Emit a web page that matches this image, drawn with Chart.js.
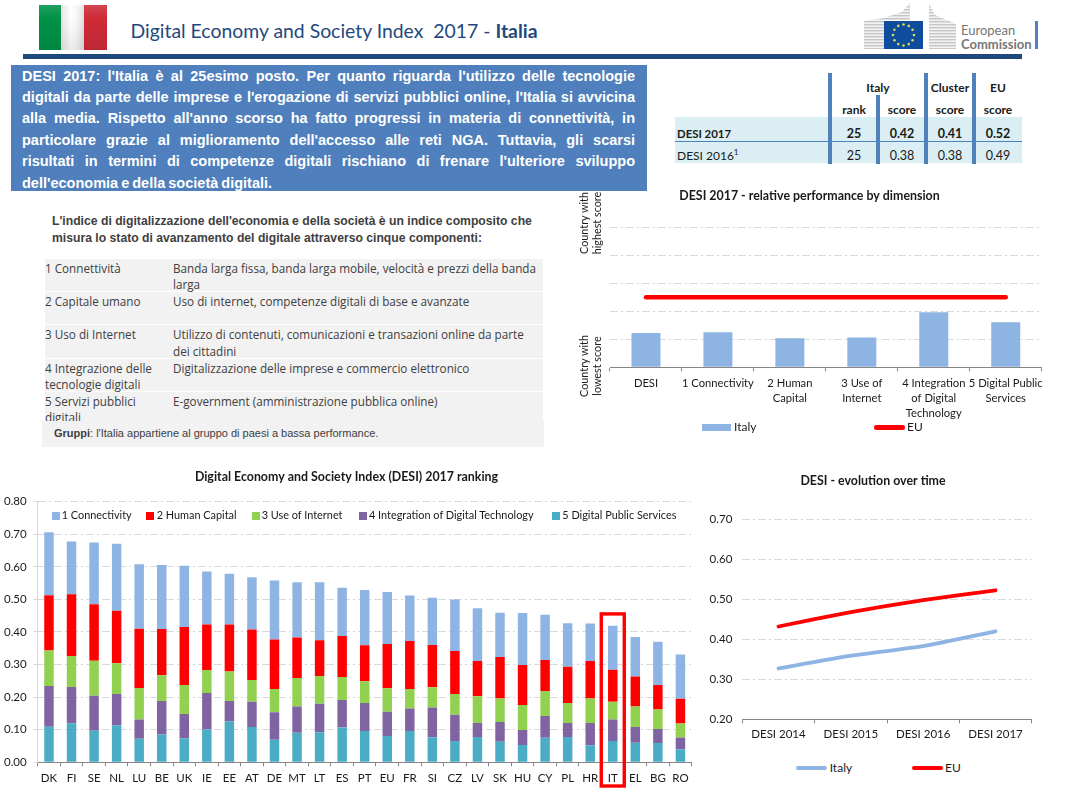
<!DOCTYPE html>
<html lang="it">
<head>
<meta charset="utf-8">
<title>DESI 2017 - Italia</title>
<script src="https://cdn.jsdelivr.net/npm/chart.js@4"></script>
<style>
  html, body { margin: 0; padding: 0; background: #fff; }
  #page { position: relative; width: 1069px; height: 805px; overflow: hidden; font-family: Lato, sans-serif; color: #1a1a1a; }
  #page > * { position: absolute; }
  canvas { display: block; }
  .t { white-space: nowrap; line-height: 1; transform: translateY(-50%); }
  .c { transform: translate(-50%, -50%); }
  .rot { white-space: nowrap; font-size: 10.8px; line-height: 13.3px; text-align: center; transform: translate(-50%, -50%) rotate(-90deg); }
  .cell { font: 11.7px/16.3px "Open Sans", sans-serif; color: #404040; white-space: nowrap; }
  .intro div { position: absolute; left: 11px; width: 613px; color: #fff; font: bold 14.5px/21px "Liberation Sans", sans-serif; word-spacing: -1px; white-space: nowrap; text-align: justify; text-align-last: justify; }
</style>
</head>
<body>
<div id="page"></div>
<script>
// ---------------- DATA ----------------
const countries = ['DK','FI','SE','NL','LU','BE','UK','IE','EE','AT','DE','MT','LT','ES','PT','EU','FR','SI','CZ','LV','SK','HU','CY','PL','HR','IT','EL','BG','RO'];
const connectivity = [.193,.162,.190,.206,.198,.197,.188,.163,.156,.160,.181,.170,.178,.148,.170,.160,.140,.145,.158,.162,.136,.159,.139,.134,.115,.135,.122,.133,.136];
const humanCapital = [.170,.190,.173,.161,.182,.142,.178,.140,.144,.155,.152,.124,.110,.126,.110,.136,.147,.130,.132,.108,.127,.123,.095,.111,.115,.098,.092,.075,.076];
const useOfInternet = [.109,.095,.108,.094,.097,.079,.089,.070,.091,.067,.071,.088,.085,.071,.067,.072,.060,.062,.064,.082,.072,.077,.077,.061,.075,.055,.063,.060,.043];
const integration = [.125,.111,.107,.096,.059,.103,.074,.112,.062,.078,.085,.080,.088,.084,.086,.074,.069,.091,.081,.043,.061,.046,.067,.043,.069,.066,.048,.043,.036];
const publicServices = [.109,.120,.097,.114,.072,.085,.074,.101,.126,.108,.069,.091,.092,.107,.096,.081,.096,.077,.065,.078,.063,.053,.075,.078,.052,.065,.060,.059,.040];

const dimensions = ['DESI','1 Connectivity',['2 Human','Capital'],['3 Use of','Internet'],['4 Integration','of Digital','Technology'],['5 Digital Public','Services']];
const italyDimension = [.245,.25,.207,.212,.393,.321];
const euDimension = [.5,.5,.5,.5,.5,.5];

const years = ['DESI 2014','DESI 2015','DESI 2016','DESI 2017'];
const italyYears = [.327,.359,.383,.42];
const euYears = [.432,.468,.498,.5225];

const introLines = [
  "DESI 2017: l'Italia è al 25esimo posto. Per quanto riguarda l'utilizzo delle tecnologie",
  "digitali da parte delle imprese e l'erogazione di servizi pubblici online, l'Italia si avvicina",
  "alla media. Rispetto all'anno scorso ha fatto progressi in materia di connettività, in",
  "particolare grazie al miglioramento dell'accesso alle reti NGA. Tuttavia, gli scarsi",
  "risultati in termini di competenze digitali rischiano di frenare l'ulteriore sviluppo",
  "dell'economia e della società digitali."
];
const components = [
  ['1 Connettività', 'Banda larga fissa, banda larga mobile, velocità e prezzi della banda<br>larga'],
  ['2 Capitale umano', 'Uso di internet, competenze digitali di base e avanzate'],
  ['3 Uso di Internet', 'Utilizzo di contenuti, comunicazioni e transazioni online da parte<br>dei cittadini'],
  ['4 Integrazione delle<br>tecnologie digitali', 'Digitalizzazione delle imprese e commercio elettronico'],
  ['5 Servizi pubblici<br>digitali', 'E-government (amministrazione pubblica online)']
];
const scoreRows = [
  ['DESI 2017', '25', '0.42', '0.41', '0.52'],
  ['DESI 2016<sup style="font-size:8px;line-height:0">1</sup>', '25', '0.38', '0.38', '0.49']
];

// ---------------- COLOURS ----------------
const BLUE = '#8eb4e3', RED = '#ff0000', GREEN = '#92d050', PURPLE = '#8064a2', TEAL = '#4bacc6';
const GRID = '#d9d9d9', AXIS = '#868686', NAVY = '#1f497d', BAR = '#4f81bd';
const DASH = [8, 3, 2, 3];
const page = document.getElementById('page');

function box(x, y, w, h, bg, cls) {
  const d = document.createElement('div');
  d.style.cssText = `left:${x}px;top:${y}px;width:${w}px;height:${h}px;background:${bg};`;
  if (cls) d.className = cls;
  page.appendChild(d);
  return d;
}

function text(html, x, y, css, cls) {
  const d = document.createElement('div');
  d.className = cls || 't';
  d.innerHTML = html;
  d.style.cssText = `left:${x}px;top:${y}px;` + (css || '');
  page.appendChild(d);
  return d;
}

function addCanvas(x, y, w, h) {
  const c = document.createElement('canvas');
  c.width = w; c.height = h;
  c.style.cssText = `left:${x}px;top:${y}px;width:${w}px;height:${h}px;`;
  page.appendChild(c);
  return c;
}

// ---------------- HEADER ----------------
box(39, 5, 68, 45, 'linear-gradient(180deg,rgba(255,255,255,.12) 0,rgba(0,0,0,0) 30%,rgba(0,0,0,.08) 100%),linear-gradient(90deg,#009246 0,#009246 33%,#e6e6e6 33%,#ffffff 47%,#f6f6f6 56%,#dedede 66%,#ce2b37 66%,#ce2b37 100%)');
text('Digital Economy and Society Index&nbsp; 2017 - <b>Italia</b>', 130.5, 31, `font-size:19.4px;color:${NAVY};`);
box(23, 54, 999, 5, NAVY);

// logo
const stars = [];
for (let i = 0; i < 12; i++) {
  const a = i * Math.PI / 6;
  stars.push(`<circle cx="${39.5 + 10.5 * Math.cos(a)}" cy="${32 + 10.5 * Math.sin(a)}" r="1.3" fill="#d3dc5a"/>`);
}
const logo = document.createElement('div');
logo.style.cssText = 'left:864px;top:3px;width:96px;height:47px;';
logo.innerHTML = `<svg width="96" height="47" xmlns="http://www.w3.org/2000/svg">
  <defs><pattern id="st" width="3" height="3" patternUnits="userSpaceOnUse"><rect width="3" height="3" fill="#f2f2f2"/><rect width="3" height="1.4" fill="#c6c6c6"/></pattern></defs>
  <polygon points="0,18 20,15 38,9 46,0 46,17 20,17 20,46 0,46" fill="url(#st)"/>
  <polygon points="65,0 71,12 92,21 92,46 65,46" fill="url(#st)"/>
  <rect x="20" y="18" width="39" height="28" fill="#0f4c9c"/>${stars.join('')}</svg>`;
page.appendChild(logo);
text('European', 961, 29.5, 'font-size:13px;color:#777;');
text('Commission', 961, 44, 'font-size:13px;color:#777;font-weight:bold;');
box(1035, 21, 3, 28, BAR);

// ---------------- INTRO BOX ----------------
const intro = box(11, 65, 636, 126, '#4f7fbc', 'intro');
introLines.forEach((line, i) => {
  const d = document.createElement('div');
  d.textContent = line;
  d.style.top = (0.5 + i * 21.4) + 'px';
  if (i === introLines.length - 1) d.style.textAlignLast = 'left';
  intro.appendChild(d);
});

// ---------------- SCORE TABLE ----------------
box(675, 117, 347, 46, '#daeef3');
box(675, 141, 347, 1, BAR);
[[828, 73], [876, 95], [924, 73], [972, 73]].forEach(p => box(p[0], p[1], 4, 164 - p[1], BAR));
const tableFont = 'font-size:12px;font-weight:bold;color:#1a1a1a;';
text('Italy', 878, 88, tableFont, 't c');
text('Cluster', 950, 88, tableFont, 't c');
text('EU', 998, 88, tableFont, 't c');
text('rank', 854, 110, tableFont, 't c');
text('score', 902, 110, tableFont, 't c');
text('score', 950, 110, tableFont, 't c');
text('score', 998, 110, tableFont, 't c');
const scoreX = [854, 902, 950, 998];
scoreRows.forEach((row, r) => {
  const rowY = r === 0 ? 134 : 156;
  const weight = r === 0 ? 'bold' : 'normal';
  text(row[0], 677, rowY, `font-size:${r === 0 ? 11.4 : 12}px;font-weight:${weight};`);
  row.slice(1).forEach((v, i) => text(v, scoreX[i], rowY, `font-size:12.5px;font-weight:${weight};`, 't c'));
});

// ---------------- DESCRIPTION ----------------
const bodyFont = 'font:bold 12.2px "Liberation Sans",sans-serif;color:#404040;';
text("L'indice di digitalizzazione dell'economia e della società è un indice composito che", 52, 220.7, bodyFont);
text('misura lo stato di avanzamento del digitale attraverso cinque componenti:', 52, 238, bodyFont);

const rowTops = [[259, 32], [292.3, 32], [325.3, 32.4], [358.7, 32.3], [392, 29]];
components.forEach((c, i) => {
  box(45, rowTops[i][0], 498, rowTops[i][1], '#f2f2f2');
  text(c[0], 45, rowTops[i][0] + 1, '', 'cell');
  text(c[1], 173, rowTops[i][0] + 1, '', 'cell');
});
box(42, 421, 502, 26, '#f2f2f2');
text('<b>Gruppi</b>: l\'Italia appartiene al gruppo di paesi a bassa performance.', 54, 432.7, 'font:11px "Liberation Sans",sans-serif;color:#404040;');

// ---------------- SHARED CHART OPTIONS ----------------
Chart.defaults.font.family = 'Lato, sans-serif';
Chart.defaults.font.size = 11;
Chart.defaults.color = '#1a1a1a';
Chart.defaults.animation = false;
Chart.defaults.responsive = false;

function chartTitle(txt, bottom) {
  return { display: true, text: txt, color: '#1a1a1a', font: { size: 12.4, weight: 'bold' }, padding: { top: 0, bottom: bottom } };
}
// the x scale gets a fixed height and right inset, so the plot area lands where it should
function fitX(height, right) {
  return s => { s.height = height; s.paddingLeft = 0; s.paddingRight = right; };
}
function legendSwatch(x, y, w, h, color, round) {
  const s = box(x, y - h / 2, w, h, color);
  if (round) s.style.borderRadius = (h / 2) + 'px';
}

// ---------------- RELATIVE PERFORMANCE ----------------
new Chart(addCanvas(575, 187, 469, 250), {
  data: {
    labels: dimensions,
    datasets: [
      { type: 'line', label: 'EU', data: euDimension, borderColor: RED, borderWidth: 4.5, borderCapStyle: 'round', pointRadius: 0, order: 0 },
      { type: 'bar', label: 'Italy', data: italyDimension, backgroundColor: BLUE, barPercentage: 0.403, categoryPercentage: 1, order: 1 }
    ]
  },
  options: {
    layout: { padding: { top: 2, left: 0, right: 0, bottom: 0 } },
    plugins: { legend: { display: false }, tooltip: { enabled: false }, title: chartTitle('DESI 2017 - relative performance by dimension', 23.4) },
    scales: {
      x: {
        offset: true,
        grid: { offset: true, drawOnChartArea: false, tickLength: 4, color: AXIS },
        border: { color: AXIS },
        ticks: { color: '#1a1a1a', maxRotation: 0, autoSkip: false, padding: 5, font: { size: 11.2, lineHeight: 1.33 } },
        afterFit: fitX(69.7, 2.3)
      },
      y: {
        min: 0, max: 1,
        ticks: { display: false, stepSize: 0.2 },
        grid: { color: GRID, drawTicks: false },
        border: { display: false, dash: DASH },
        afterFit: s => { s.width = 35; }
      }
    }
  }
});
text('Country with<br>highest score', 589.5, 223, '', 'rot');
text('Country with<br>lowest score', 589.5, 366, '', 'rot');
legendSwatch(702, 427.3, 29, 7, BLUE);
text('Italy', 734, 427, 'font-size:12px;');
legendSwatch(874, 427.3, 31, 4.5, RED, true);
text('EU', 907, 427, 'font-size:12px;');

// ---------------- RANKING ----------------
// red frame round the Italian bar, anchored on the scales
const italyFrame = {
  id: 'italyFrame',
  afterDraw(chart) {
    const x = chart.scales.x.getPixelForValue('IT');
    const top = chart.scales.y.getPixelForValue(0.4555);
    const ctx = chart.ctx;
    ctx.save();
    ctx.strokeStyle = RED;
    ctx.lineWidth = 3.4;
    ctx.strokeRect(x - 11.5, top, 23, chart.height - 4 - top);
    ctx.restore();
  }
};

const rankingSeries = [
  ['5 Digital Public Services', publicServices, TEAL],
  ['4 Integration of Digital Technology', integration, PURPLE],
  ['3 Use of Internet', useOfInternet, GREEN],
  ['2 Human Capital', humanCapital, RED],
  ['1 Connectivity', connectivity, BLUE]
];

new Chart(addCanvas(0, 468, 693, 322), {
  type: 'bar',
  data: {
    labels: countries,
    datasets: rankingSeries.map(s => ({ label: s[0], data: s[1], backgroundColor: s[2], barPercentage: 0.42, categoryPercentage: 1 }))
  },
  options: {
    layout: { padding: { top: 2, right: 0, left: 0, bottom: 0 } },
    plugins: { legend: { display: false }, tooltip: { enabled: false }, title: chartTitle('Digital Economy and Society Index (DESI) 2017 ranking', 16.8) },
    scales: {
      x: {
        stacked: true,
        grid: { offset: true, drawOnChartArea: false, tickLength: 4, color: AXIS },
        border: { color: AXIS },
        ticks: { color: '#1a1a1a', maxRotation: 0, autoSkip: false, padding: 5, font: { size: 11.5 } },
        afterFit: fitX(27.7, 1.3)
      },
      y: {
        stacked: true,
        min: 0, max: 0.8,
        ticks: { stepSize: 0.1, padding: 7, color: '#1a1a1a', font: { size: 11.5 }, callback: v => v.toFixed(2) },
        grid: { color: GRID, tickLength: 4, tickColor: GRID },
        border: { color: GRID, dash: DASH },
        afterFit: s => { s.width = 37.7; }
      }
    }
  },
  plugins: [italyFrame]
});

// legend of the ranking sits inside the plot
[[52, 61.7, 4], [146, 156.7, 3], [252.3, 261.7, 2], [359.3, 369, 1], [552, 562.3, 0]].forEach(p => {
  const s = rankingSeries[p[2]];
  legendSwatch(p[0], 515.8, 7.5, 8, s[2]);
  text(s[0], p[1], 515.3, 'font-size:10.9px;');
});

// ---------------- EVOLUTION ----------------
new Chart(addCanvas(706, 472, 334, 283), {
  type: 'line',
  data: {
    labels: years,
    datasets: [
      { label: 'Italy', data: italyYears, borderColor: BLUE, borderWidth: 3.8, borderCapStyle: 'round', pointRadius: 0, tension: 0.15 },
      { label: 'EU', data: euYears, borderColor: RED, borderWidth: 3.8, borderCapStyle: 'round', pointRadius: 0, tension: 0.15 }
    ]
  },
  options: {
    layout: { padding: { top: 2, right: 0, left: 0, bottom: 0 } },
    plugins: { legend: { display: false }, tooltip: { enabled: false }, title: chartTitle('DESI - evolution over time', 30.4) },
    scales: {
      x: {
        offset: true,
        grid: { offset: true, drawOnChartArea: false, tickLength: 4, color: AXIS },
        border: { color: AXIS },
        ticks: { color: '#1a1a1a', maxRotation: 0, autoSkip: false, padding: 4, font: { size: 11.5 } },
        afterFit: fitX(35.7, 8.3)
      },
      y: {
        min: 0.2, max: 0.7,
        ticks: { stepSize: 0.1, padding: 10, color: '#1a1a1a', font: { size: 11.5 }, callback: v => v.toFixed(2) },
        grid: { color: GRID, drawTicks: false },
        border: { display: false, dash: DASH },
        afterFit: s => { s.width = 36.3; }
      }
    }
  }
});
legendSwatch(796, 767.7, 31, 4, BLUE, true);
text('Italy', 829.7, 768, 'font-size:12px;');
legendSwatch(912, 767.7, 31, 4, RED, true);
text('EU', 945, 768, 'font-size:12px;');
</script>
</body>
</html>
